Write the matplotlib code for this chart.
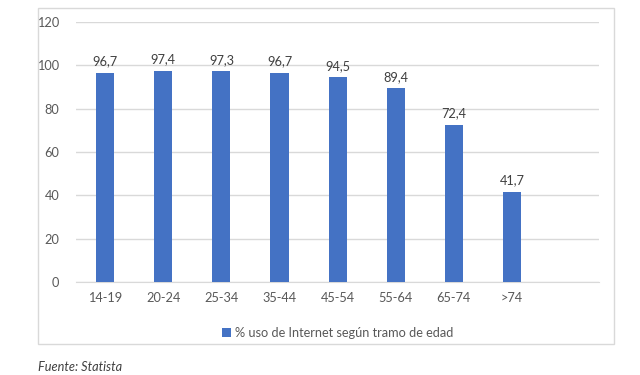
import matplotlib.pyplot as plt
import matplotlib.patches as mpatches
import numpy as np

plt.rcParams['font.family'] = ['Lato', 'DejaVu Sans']

# datos
tramos = ['14-19', '20-24', '25-34', '35-44', '45-54', '55-64', '65-74', '>74', '']
uso = [96.7, 97.4, 97.3, 96.7, 94.5, 89.4, 72.4, 41.7, np.nan]
etiqueta = '% uso de Internet según tramo de edad'
fuente = 'Fuente: Statista'

azul = '#4472c4'
gris = '#595959'

fig = plt.figure(figsize=(6.4, 3.75), dpi=100)
ax = fig.add_axes([0.119, 0.248, 0.817, 0.693])

# marco del grafico
fig.patches.append(mpatches.Rectangle((0.059, 0.083), 0.9, 0.896, transform=fig.transFigure,
                                      fill=False, edgecolor='#d9d9d9', linewidth=1))

x = np.arange(len(tramos))
barras = ax.bar(x, uso, width=0.31, color=azul, label=etiqueta, zorder=3)

for xi, v in zip(x, uso):
    if not np.isnan(v):
        ax.annotate(f'{v:.1f}'.replace('.', ','), (xi, v), xytext=(0, 4),
                    textcoords='offset points', ha='center', va='bottom',
                    fontsize=9.2, color='#404040')

ax.set_xlim(-0.5, len(tramos) - 0.5)
ax.set_ylim(0, 120)
ax.set_yticks(range(0, 121, 20))
ax.set_xticks(x)
ax.set_xticklabels(tramos)
ax.grid(axis='y', color='#d9d9d9', linewidth=1, zorder=0)
for s in ['top', 'right', 'left']:
    ax.spines[s].set_visible(False)
ax.spines['bottom'].set_color('#d9d9d9')
ax.tick_params(axis='both', length=0, labelsize=9.2, labelcolor=gris)
ax.tick_params(axis='y', pad=12)
ax.tick_params(axis='x', pad=7)

ax.legend(loc='upper center', bbox_to_anchor=(0.5, -0.13), frameon=False,
          fontsize=9.2, labelcolor=gris, handlelength=0.7, handleheight=0.7,
          handletextpad=0.3)

fig.text(0.059, 0.021, fuente, fontsize=9.2, style='italic', color='#404040', va='center')

fig.savefig('out.png', dpi=100)
